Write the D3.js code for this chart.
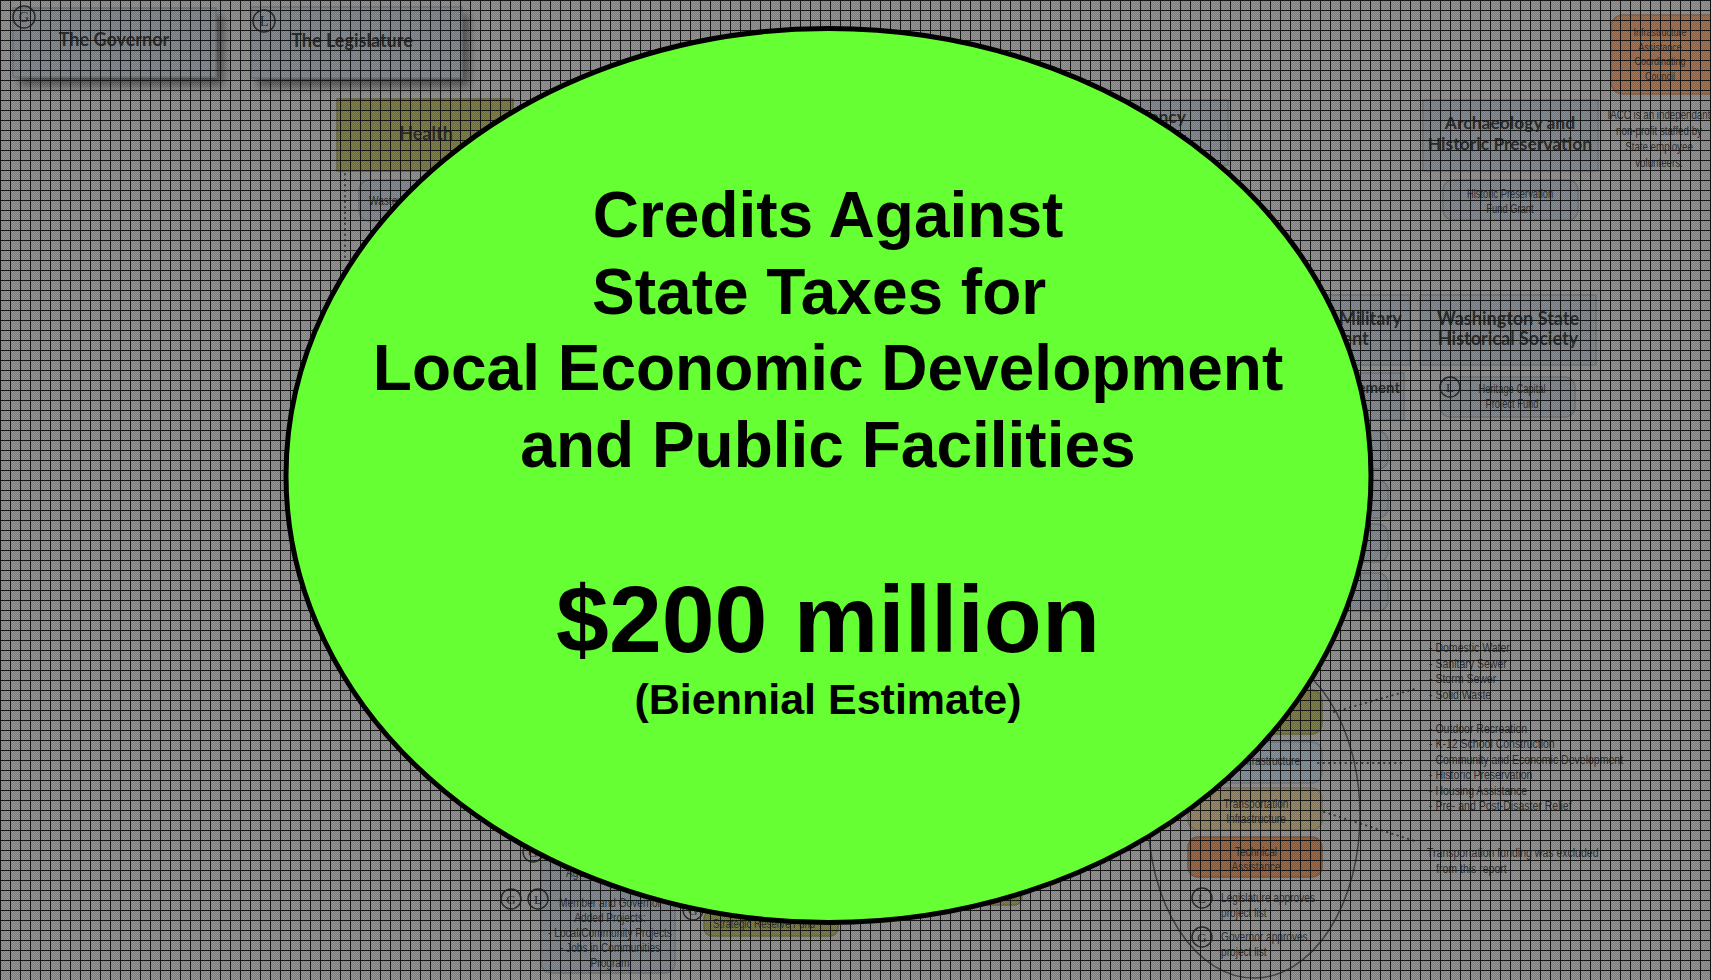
<!DOCTYPE html>
<html>
<head>
<meta charset="utf-8">
<script src="https://cdn.jsdelivr.net/npm/d3@7/dist/d3.min.js"></script>
<style>
  html, body { margin: 0; padding: 0; background: #8c8c8c; overflow: hidden; }
  svg { display: block; }
  text { white-space: pre; }
</style>
</head>
<body>
<div id="chart"></div>
<script>
var width = 1711;
var height = 980;

// headline in the green oval
var titleLines = ["Credits Against", "State Taxes for ", "Local Economic Development", "and Public Facilities"];
var amountLabel = "$200 million";
var amountNote = "(Biennial Estimate)";

// faded org chart behind the oval
var leaders = ["The Governor", "The Legislature"];
var leaderMarks = ["G", "L"];
var agencyTitles = [
  ["Health"],
  ["Public Works Agency", "Infrastructure Partner"],
  ["Archaeology and", "Historic Preservation"],
  ["Washington Military", "Department"],
  ["Washington State", "Historical Society"]
];
var programs = [
  ["Wastewater Treatment"],
  ["Historic Preservation", "Fund Grant"],
  ["Heritage Capital", "Project Fund"],
  ["Management"],
  ["Member and Governor", "Added Projects:", "- Local/Community Projects", "- Jobs in Communities", "Program"],
  ["Strategic Reserve Fund"],
  ["Agency Requested Projects"]
];
var iaccBox = ["Infrastructure", "Assistance", "Coordinating", "Council"];
var iaccNote = ["IACC is an independant", "non-profit staffed by", "State employee", "volunteers."];
var legendTypes = [["Environmental"], ["Public Infrastructure"], ["Transportation", "Infrastructure"], ["Technical", "Assistance"]];
var legendMarks = [["L", "Legislature approves", "project list"], ["G", "Governor approves", "project list"]];
var waterUses = ["Domestic Water", "Sanitary Sewer", "Storm Sewer", "Solid Waste"];
var communityUses = ["Outdoor Recreation", "K-12 School Construction", "Community and Economic Development",
                     "Historic Preservation", "Housing Assistance", "Pre- and Post-Disaster Relief"];
var transportNote = ["Transportation funding was excluded", "from this report"];

// design space -> page
var x = d3.scaleLinear().domain([0, 1711]).range([0, width]);
var y = d3.scaleLinear().domain([0, 980]).range([0, height]);

var svg = d3.select("#chart").append("svg")
    .attr("width", width)
    .attr("height", height);

var defs = svg.append("defs");

var shadow = defs.append("filter").attr("id", "shadow").attr("x", "-10%").attr("y", "-10%")
    .attr("width", "130%").attr("height", "140%");
shadow.append("feGaussianBlur").attr("in", "SourceAlpha").attr("stdDeviation", 4);
shadow.append("feOffset").attr("dx", 7).attr("dy", 8).attr("result", "off");
shadow.append("feComponentTransfer").append("feFuncA").attr("type", "linear").attr("slope", 0.45);
var merge = shadow.append("feMerge");
merge.append("feMergeNode");
merge.append("feMergeNode").attr("in", "SourceGraphic");

// checker + grid overlay
var pat = defs.append("pattern").attr("id", "grid")
    .attr("patternUnits", "userSpaceOnUse")
    .attr("width", 10).attr("height", 10);
for (var i = 0; i < 10; i++) {
  for (var j = 0; j < 10; j++) {
    pat.append("rect").attr("x", i).attr("y", j).attr("width", 1).attr("height", 1)
      .attr("fill", (i + j) % 2 === 0 ? "#fff" : "#000")
      .attr("fill-opacity", 0.09);
  }
}
pat.append("path").attr("d", "M0,0.5H10M0.5,0V10")
    .attr("stroke", "#141414").attr("stroke-width", 1).attr("fill", "none");

var boxFont = "Lato, 'Open Sans', sans-serif";
var smallFont = "'Liberation Sans', Arial, sans-serif";
var narrow = 0.78;

/***** helpers *****/
function box(x0, y0, x1, y1, fill, r, withShadow) {
  var b = diagram.append("rect")
    .attr("x", x(x0)).attr("y", y(y0))
    .attr("width", x(x1) - x(x0)).attr("height", y(y1) - y(y0))
    .attr("rx", r).attr("ry", r)
    .attr("fill", fill)
    .attr("stroke", d3.color(fill).darker(0.5))
    .attr("stroke-width", 1.5);
  if (withShadow) b.attr("filter", "url(#shadow)");
  return b;
}

// bold box titles
function lines(list, cx, base, step, size, anchor) {
  diagram.append("g").selectAll("text")
    .data(list)
    .join("text")
    .attr("x", x(cx))
    .attr("y", function(d, i) { return y(base + i * step); })
    .attr("text-anchor", anchor || "middle")
    .attr("font-family", boxFont)
    .attr("font-size", size)
    .attr("font-weight", "bold")
    .attr("fill", "#232323")
    .text(function(d) { return d; });
}

// small condensed notes
function notes(list, cx, base, step, size, anchor) {
  diagram.append("g").selectAll("text")
    .data(list)
    .join("text")
    .attr("transform", function(d, i) {
      return "translate(" + x(cx) + "," + y(base + i * step) + ") scale(" + narrow + ",1)";
    })
    .attr("text-anchor", anchor || "middle")
    .attr("font-family", smallFont)
    .attr("font-size", size)
    .attr("fill", "#262626")
    .text(function(d) { return d; });
}

function mark(letter, cx, cy, r) {
  diagram.append("circle").attr("cx", x(cx)).attr("cy", y(cy)).attr("r", r)
    .attr("fill", "none").attr("stroke", "#222").attr("stroke-width", 1.5);
  diagram.append("text").attr("x", x(cx)).attr("y", y(cy) + r * 0.45)
    .attr("text-anchor", "middle")
    .attr("font-family", "'Liberation Serif', serif")
    .attr("font-size", r * 1.3)
    .attr("fill", "#222")
    .text(letter);
}

function dotted(pts) {
  diagram.append("path")
    .attr("d", d3.line().x(function(d) { return x(d[0]); }).y(function(d) { return y(d[1]); })(pts))
    .attr("fill", "none").attr("stroke", "#333")
    .attr("stroke-width", 2).attr("stroke-linecap", "round")
    .attr("stroke-dasharray", "0.5,5");
}

/***** background diagram *****/
svg.append("rect").attr("width", width).attr("height", height).attr("fill", "#8b8b8b");
var diagram = svg.append("g").attr("class", "diagram");

var gray = "#7c8388", olive = "#76763f", tan = "#8f8060", rust = "#925f3e", steel = "#7e8993";

box(13, 8, 216, 77, gray, 0, true);
box(251, 7, 462, 78, gray, 0, true);
lines([leaders[0]], 114, 46, 0, 18);
lines([leaders[1]], 352, 47, 0, 18);
mark(leaderMarks[0], 24, 17, 11);
mark(leaderMarks[1], 264, 21, 11);

box(337, 99, 513, 171, olive, 0, false);
lines(agencyTitles[0], 426, 140, 0, 18);
box(359, 180, 520, 221, gray, 10, false);
notes(programs[0], 369, 205, 0, 13, "start");
dotted([[345, 174], [345, 262]]);

box(1000, 100, 1228, 165, gray, 0, false);
lines(agencyTitles[1], 1186, 123, 21, 17.5, "end");

box(1423, 100, 1598, 171, gray, 0, false);
lines(agencyTitles[2], 1510, 129, 21, 17.5);
box(1443, 180, 1578, 220, gray, 10, false);
notes(programs[1], 1510, 198, 15, 12);

box(1611, 15, 1730, 94, "#9a6a4a", 12, false);
notes(iaccBox, 1660, 36, 14.7, 11.5);
notes(iaccNote, 1659, 119, 16, 12.5);

box(1215, 295, 1410, 365, gray, 0, false);
lines(agencyTitles[3], 1320, 325, 20, 18);
box(1420, 295, 1596, 365, gray, 0, false);
lines(agencyTitles[4], 1508, 325, 20, 18);
box(1440, 377, 1575, 417, gray, 10, false);
notes(programs[2], 1512, 393, 15, 12);
mark("L", 1450, 387, 10);
box(1200, 373, 1404, 420, gray, 0, false);
lines(programs[3], 1400, 393, 0, 15, "end");

[[431, 469], [480, 518], [524, 562], [573, 611]].forEach(function(r) {
  box(1180, r[0], 1388, r[1], gray, 10, false);
});

// legend group, lower right
diagram.append("ellipse").attr("cx", x(1254)).attr("cy", y(815)).attr("rx", 106).attr("ry", 163)
    .attr("fill", "none").attr("stroke", "#3a3a3a").attr("stroke-width", 1.5);
box(1188, 690, 1322, 734, olive, 10, false);
notes(legendTypes[0], 1240, 716, 0, 13);
box(1188, 742, 1322, 783, steel, 10, false);
notes(legendTypes[1], 1255, 765, 0, 13);
box(1188, 788, 1322, 830, tan, 10, false);
notes(legendTypes[2], 1256, 808, 15, 13);
box(1188, 837, 1322, 877, rust, 10, false);
notes(legendTypes[3], 1256, 856, 15, 13);
mark(legendMarks[0][0], 1202, 898, 10);
notes(legendMarks[0].slice(1), 1221, 902, 15, 13, "start");
mark(legendMarks[1][0], 1202, 937, 10);
notes(legendMarks[1].slice(1), 1221, 941, 15, 13, "start");

dotted([[1334, 712], [1418, 688]]);
dotted([[1318, 763], [1404, 763]]);
dotted([[1324, 812], [1418, 842]]);

notes(waterUses.map(function(d) { return "- " + d; }), 1429, 652, 15.7, 13.5, "start");
notes(communityUses.map(function(d) { return "- " + d; }), 1429, 733, 15.4, 13.5, "start");
notes([transportNote[0]], 1427, 857, 0, 13.5, "start");
notes([transportNote[1]], 1436, 873, 0, 13.5, "start");

// bottom centre
box(541, 820, 675, 973, gray, 10, false);
notes(programs[6], 566, 877, 0, 13, "start");
mark("G", 533, 852, 10);
mark("G", 511, 899, 10);
mark("L", 538, 899, 10);
notes(programs[4], 610, 907, 15, 13);
box(704, 911, 838, 936, olive, 8, false);
notes(programs[5], 713, 928, 0, 12.5, "start");
mark("G", 693, 910, 10);
box(880, 878, 1022, 905, olive, 8, false);

// texture over the diagram
svg.append("rect").attr("width", width).attr("height", height).attr("fill", "url(#grid)");

/***** green oval *****/
var oval = { cx: 828.5, cy: 475.5, rx: 542.5, ry: 447 };

svg.append("ellipse")
    .attr("cx", x(oval.cx)).attr("cy", y(oval.cy))
    .attr("rx", x(oval.rx)).attr("ry", y(oval.ry))
    .attr("fill", "#66ff33")
    .attr("stroke", "#000")
    .attr("stroke-width", 5);

var headline = svg.append("g")
    .attr("font-family", "'Liberation Sans', Arial, sans-serif")
    .attr("font-weight", "bold")
    .attr("fill", "#000")
    .attr("text-anchor", "middle");

headline.selectAll("text.title")
  .data(titleLines)
  .join("text")
    .attr("class", "title")
    .attr("x", x(828))
    .attr("y", function(d, i) { return y(237 + i * 76.5); })
    .attr("font-size", 64)
    .text(function(d) { return d; });

headline.append("text")
    .attr("x", x(828)).attr("y", y(652))
    .attr("font-size", 95)
    .text(amountLabel);

headline.append("text")
    .attr("x", x(828)).attr("y", y(714))
    .attr("font-size", 43)
    .text(amountNote);
</script>
</body>
</html>
